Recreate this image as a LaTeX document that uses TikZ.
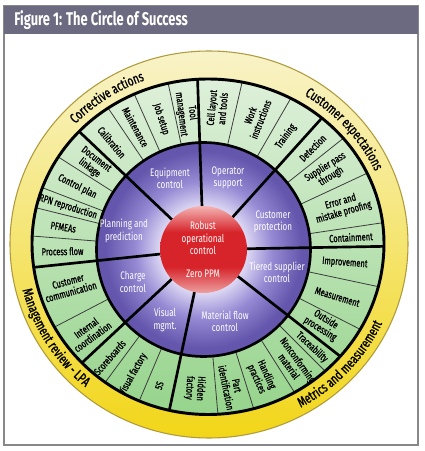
\documentclass[tikz,border=0pt]{standalone}
\usepackage{fontspec}
\setmainfont{Fira Sans}
\newfontfamily\cf[FakeStretch=0.72,FakeBold=1]{Fira Sans}
\newfontfamily\wf[FakeStretch=0.74]{Fira Sans}
\newfontfamily\tf[FakeStretch=0.70]{Fira Sans}
\usetikzlibrary{calc,decorations.text}
\definecolor{titlebar}{RGB}{108,106,128}
\definecolor{framegray}{RGB}{135,135,140}
\definecolor{ytop}{RGB}{248,243,200}
\definecolor{ybot}{RGB}{242,214,24}
\definecolor{yedge}{RGB}{175,155,60}
\definecolor{gtop}{RGB}{222,240,218}
\definecolor{gbot}{RGB}{150,212,140}
\definecolor{pin}{RGB}{222,218,244}
\definecolor{pmid}{RGB}{150,138,212}
\definecolor{pout}{RGB}{100,86,172}
\definecolor{rred}{RGB}{214,36,42}
\definecolor{rtop}{RGB}{244,180,180}
\definecolor{rbot}{RGB}{238,160,160}
\definecolor{thinline}{RGB}{60,60,60}
\pgfdeclareradialshading{purpshade}{\pgfpoint{0bp}{0bp}}{color(0bp)=(pin); color(10bp)=(pin); color(16bp)=(pmid); color(23bp)=(pout); color(25bp)=(pout); color(50bp)=(pout)}
\pgfdeclareverticalshading{redshade}{100bp}{color(0bp)=(rbot); color(25bp)=(rbot); color(40bp)=(rred); color(60bp)=(rred); color(75bp)=(rtop); color(100bp)=(rtop)}
\newcommand\ylab{\cf\fontsize{10.5}{12}\selectfont}
\newcommand\glab[5]{\node[glab, rotate=#3] (#5) at ($(C1)+(#1:#2)$) {#4};}
\begin{document}
\begin{tikzpicture}[x=0.75pt, y=0.75pt,
  glab/.style={font=\cf\fontsize{7.8}{8.3}\selectfont, align=center, inner sep=0pt, text=black},
  plab/.style={font=\wf\fontsize{8.2}{9.2}\selectfont, align=center, inner sep=0pt, text=white},
  thindiv/.style={draw=thinline, line width=0.6pt},
  thickdiv/.style={draw=black, line width=2pt},
  curvetext/.style={decorate, decoration={text along path, text align=center, text={|\ylab|#1}}}]
\useasboundingbox (0,0) rectangle (425,451);
% frame and title
\fill[white] (0,0) rectangle (425,451);
\draw[framegray, line width=1.2pt] (4,6) rectangle (418,445);
\fill[titlebar] (4,417) rectangle (418,445);
\node[anchor=west, text=white, font=\tf\bfseries\fontsize{13.8}{15}\selectfont, inner sep=0pt] (title) at (14,431) {Figure 1: The Circle of Success};
% centres
\coordinate (C1) at (203.5,201.5);
\coordinate (C2) at (208,207.5);
\coordinate (CY) at (209,207);
\coordinate (CT) at (208.5,207.3);
% yellow ring
\shade[top color=ytop, bottom color=ybot] ($(CY)+(199,0)$) arc [start angle=0, end angle=180, x radius=199, y radius=193] arc [start angle=180, end angle=360, x radius=199, y radius=194] -- cycle;
\draw[yedge, line width=0.8pt] ($(CY)+(199,0)$) arc [start angle=0, end angle=180, x radius=199, y radius=193] arc [start angle=180, end angle=360, x radius=199, y radius=194] -- cycle;
% green ring
\shade[top color=gtop, bottom color=gbot] ($(C2)+(176,0)$) arc [start angle=0, end angle=180, x radius=176, y radius=164.5] arc [start angle=180, end angle=360, x radius=176, y radius=171] -- cycle;
% purple ring
\shade[shading=purpshade] (C1) circle [radius=107];
% dividers
\begin{scope}
\clip ($(C2)+(176,0)$) arc [start angle=0, end angle=180, x radius=176, y radius=164.5] arc [start angle=180, end angle=360, x radius=176, y radius=171] -- cycle;
\foreach \a in {102,114,124,77,60,38.5,25,8.5,-12,-27,-45,-57.5,-72.5,-85,-113,-126.5,207.5,175.5,166,159,147.5}
  \draw[thindiv] ($(C1)+(\a:107)$) -- ($(C1)+(\a:260)$);
\foreach \a in {1,48,92,136.5,186,223,258,322}
  \draw[thickdiv] ($(C1)+(\a:43.5)$) -- ($(C1)+(\a:260)$);
\end{scope}
\draw[black, line width=2pt] (C1) circle [radius=107];
\draw[black, line width=2.2pt] ($(C2)+(176,0)$) arc [start angle=0, end angle=180, x radius=176, y radius=164.5] arc [start angle=180, end angle=360, x radius=176, y radius=171] -- cycle;
% red centre
\shade[shading=redshade] (C1) circle [radius=43.5];
\node[plab] (robust) at (203,213) {Robust\\operational\\control};
\node[plab] (zero) at (203,177) {Zero PPM};
% purple labels
\node[plab] (equip) at (170,273) {Equipment\\control};
\node[plab] (oper) at (228,273) {Operator\\support};
\node[plab] (custp) at (273,229) {Customer\\protection};
\node[plab] (tiered) at (277,179) {Tiered supplier\\control};
\node[plab] (matflow) at (225,130) {Material flow\\control};
\node[plab] (visual) at (165,131) {Visual\\mgmt.};
\node[plab] (charge) at (133,169) {Charge\\control};
\node[plab] (plan) at (124,220) {Planning and\\prediction};
% green labels: angle, radius, rotation, text, name
\glab{97}{137}{-83}{Tool\\management}{g1}
\glab{108}{137}{-72}{Job setup}{g2}
\glab{119}{140}{-61}{Maintenance}{g3}
\glab{130.5}{141}{-50}{Calibration}{g4}
\glab{84.5}{142}{84.5}{Cell layout\\and tools}{g5}
\glab{68.5}{142}{68.5}{Work\\instructions}{g6}
\glab{54}{140}{54}{Training}{g7}
\glab{43}{149}{45}{Detection}{g8}
\glab{32}{147}{32}{Supplier pass\\through}{g9}
\glab{17}{145}{16}{Error and\\mistake proofing}{g10}
\glab{4.75}{148}{3}{Containment}{g11}
\glab{-5.5}{142}{-4.5}{Improvement}{g12}
\glab{-19.5}{142}{-17}{Measurement}{g13}
\glab{-32}{141}{-32}{Outside\\processing}{g14}
\glab{-42}{146}{-43}{Traceability}{g15}
\glab{-51.5}{145}{-54}{Nonconforming\\material}{g16}
\glab{-65.5}{140}{-65.5}{Handling\\practices}{g17}
\glab{-78.5}{140}{-78.5}{Part\\identification}{g18}
\glab{-93.5}{139}{-93.5}{Hidden\\factory}{g19}
\glab{-108}{143}{72}{5S}{g20}
\glab{-119.5}{143}{60.5}{Visual factory}{g21}
\glab{-131}{143}{49}{Scoreboards}{g22}
\glab{216}{141}{36}{Internal\\coordination}{g23}
\glab{195.5}{139}{15.5}{Customer\\communication}{g24}
\glab{180.75}{141}{0.75}{Process flow}{g25}
\glab{171}{142}{-9}{PFMEAs}{g26}
\glab{162.5}{142}{-17.5}{RPN reproduction}{g27}
\glab{153.5}{141}{-26.5}{Control plan}{g28}
\glab{142.3}{140}{-37.5}{Document\\linkage}{g29}
% curved labels in the yellow ring
\path[curvetext={Corrective actions}] ($(CT)+(164:183 and 174.25)$) arc [start angle=164, end angle=84, x radius=183, y radius=174.25];
\path[curvetext={Customer expectations}] ($(CT)+(81:183 and 174.25)$) arc [start angle=81, end angle=1, x radius=183, y radius=174.25];
\path[curvetext={Metrics and measurement}] ($(CT)+(-83:192 and 187)$) arc [start angle=-83, end angle=-3, x radius=192, y radius=187];
\path[curvetext={Management review - LPA}] ($(CT)+(172:192 and 187)$) arc [start angle=172, end angle=252, x radius=192, y radius=187];
\end{tikzpicture}
\end{document}
